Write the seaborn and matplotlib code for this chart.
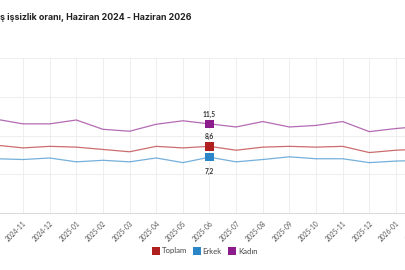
import matplotlib
matplotlib.use("Agg")
import matplotlib.pyplot as plt
from matplotlib.lines import Line2D
import pandas as pd
import seaborn as sns

# visible part of the chart, 2024-10 .. 2026-02
months = ["2024-10", "2024-11", "2024-12", "2025-01", "2025-02", "2025-03",
          "2025-04", "2025-05", "2025-06", "2025-07", "2025-08", "2025-09",
          "2025-10", "2025-11", "2025-12", "2026-01", "2026-02"]
toplam = [8.75, 8.4, 8.6, 8.5, 8.2, 7.9, 8.6, 8.4, 8.6, 8.1, 8.5, 8.6, 8.5, 8.6, 7.8, 8.1, 8.25]
erkek = [7.0, 6.9, 7.1, 6.6, 6.8, 6.6, 7.1, 6.5, 7.2, 6.6, 6.9, 7.25, 7.0, 7.0, 6.5, 6.7, 6.8]
kadin = [12.1, 11.5, 11.5, 12.0, 10.8, 10.55, 11.45, 11.9, 11.5, 11.1, 11.8, 11.1, 11.3, 11.8, 10.5, 10.9, 11.2]
series = ["Toplam", "Erkek", "Kadın"]
colors = {"Toplam": "#b0201f", "Erkek": "#2b86c8", "Kadın": "#8c1c8c"}
highlight = "2025-06"
title = "ş işsizlik oranı, Haziran 2024 - Haziran 2026"

df = pd.DataFrame({"ay": months, "Toplam": toplam, "Erkek": erkek, "Kadın": kadin})
df["x"] = range(len(months))
long = df.melt(id_vars=["ay", "x"], value_vars=series, var_name="seri", value_name="oran")

sns.set_style("white")
plt.rcParams["font.family"] = ["Lato", "DejaVu Sans"]

fig = plt.figure(figsize=(4.05, 2.7), dpi=100)
# axes deliberately wider than the figure: the reference is a crop
ax = fig.add_axes([-3.64 / 405, 57 / 270, 426.2 / 405, 155 / 270])

sns.lineplot(data=long, x="x", y="oran", hue="seri", palette=colors,
             linewidth=0.9, alpha=0.65, legend=False, ax=ax)

hi = long[long["ay"] == highlight]
sns.scatterplot(data=hi, x="x", y="oran", hue="seri", palette=colors,
                marker="s", s=38, linewidth=0, legend=False, ax=ax, zorder=5)

for _, r in hi.iterrows():
    label = f"{r['oran']:.1f}".replace(".", ",")
    dy = -10 if r["seri"] == "Erkek" else 7
    ax.annotate(label, (r["x"], r["oran"]), xytext=(0, dy), textcoords="offset points",
                ha="center", va="center", fontsize=4.8, fontweight="bold", color="#333333")

ax.set_xlim(0, len(months) - 1)
ax.set_ylim(0, 20)
ax.set_yticks([0, 5, 10, 15, 20])
ax.set_xticks(df["x"])
ax.set_xticklabels(months, rotation=45, ha="right", rotation_mode="anchor",
                   fontsize=4.8, color="#555555")
ax.tick_params(axis="x", length=2, color="#e6e6e6", pad=3)
ax.tick_params(axis="y", length=0, labelleft=False)
ax.grid(True, color="#ebebeb", linewidth=0.6)
ax.set_xlabel("")
ax.set_ylabel("")
for side in ["top", "left", "right"]:
    ax.spines[side].set_visible(False)
ax.spines["bottom"].set_color("#d9d9d9")
ax.spines["bottom"].set_linewidth(0.7)

fig.text(0.0, 1 - 18 / 270, title, ha="left", va="center",
         fontsize=6.4, fontweight="bold", color="#222222", family=["Inter", "DejaVu Sans"])

handles = [Line2D([], [], marker="s", linestyle="", markersize=5.8,
                  markerfacecolor=colors[s], markeredgewidth=0) for s in series]
fig.legend(handles, series, loc="center", bbox_to_anchor=(0.505, 1 - 251 / 270),
           ncol=3, frameon=False, fontsize=5.6, handletextpad=0.25, columnspacing=0.8,
           handlelength=1.0, labelcolor="#444444")

fig.savefig("out.png", dpi=100)
